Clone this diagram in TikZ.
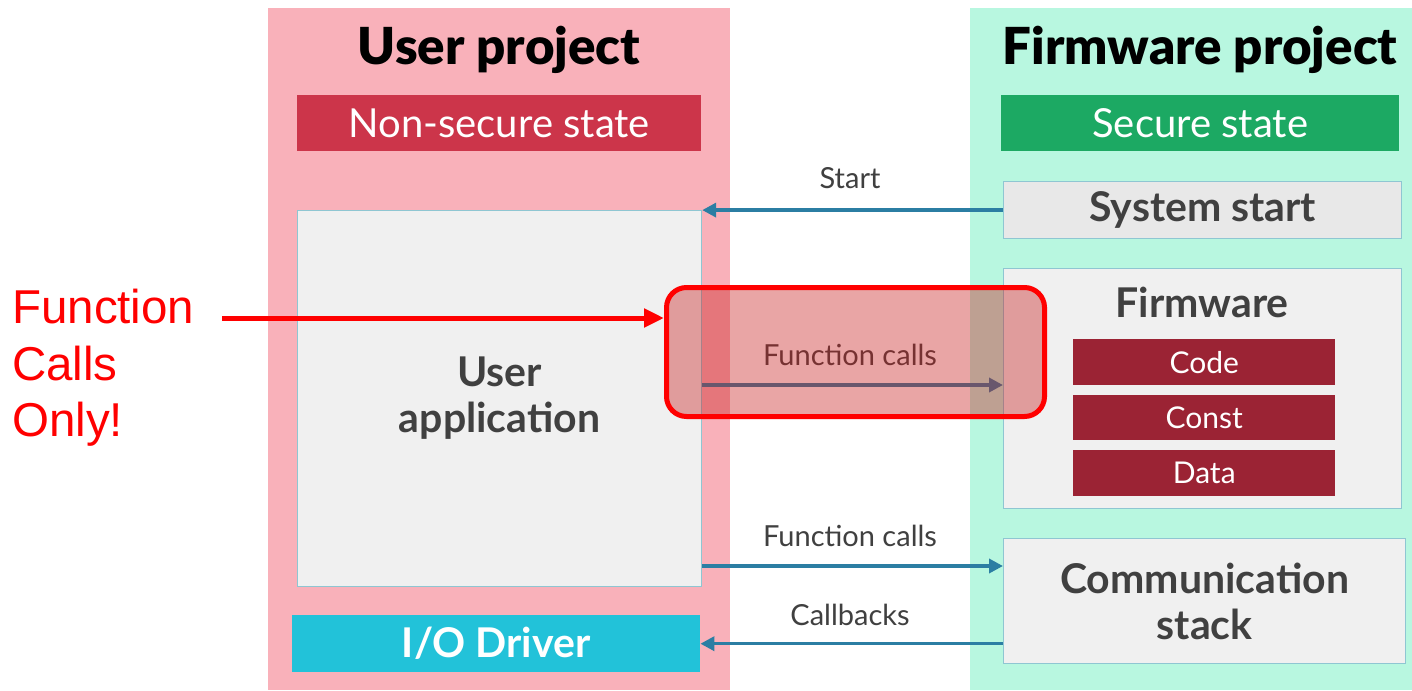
\documentclass[tikz,border=0pt]{standalone}
\usepackage{fontspec}
\setmainfont{Lato}
\newfontfamily\heavyfont{Lato Black}
\newfontfamily\arialfont{Liberation Sans}
\usetikzlibrary{arrows.meta}

\definecolor{pinkbg}{HTML}{F9B1BA}
\definecolor{mintbg}{HTML}{B8F7E0}
\definecolor{nsred}{HTML}{CC354A}
\definecolor{sgreen}{HTML}{1CA963}
\definecolor{boxgray}{HTML}{F0F0F0}
\definecolor{sysgray}{HTML}{E8E8E8}
\definecolor{boxedge}{HTML}{8FC6D2}
\definecolor{memred}{HTML}{9B2334}
\definecolor{iocyan}{HTML}{22C2D9}
\definecolor{flow}{HTML}{2B7EA3}
\definecolor{txtgray}{HTML}{404040}
\definecolor{hlred}{HTML}{C81E1E}

\newcommand{\fsz}[1]{\fontsize{#1}{#1}\selectfont}

\tikzset{
  rect/.style={rectangle, inner sep=0pt, anchor=north west},
  panel/.style={rect, draw=none},
  banner/.style={rect, text=white, font=\fsz{40}},
  graybox/.style={rect, fill=boxgray, draw=boxedge, line width=1.2pt, text=txtgray},
  boxtext/.style={font=\bfseries\fsz{41}},
  membox/.style={rect, fill=memred, text=white, font=\fsz{30}, minimum width=262pt},
  flowarrow/.style={draw=flow, line width=3.5pt, -{Triangle[length=14pt,width=14pt]}},
  flowlabel/.style={text=txtgray, font=\fsz{29}, inner sep=0pt},
  title/.style={font=\heavyfont\fsz{51}, inner sep=0pt},
  highlight/.style={rect, fill=hlred, fill opacity=0.4, draw=red, line width=5pt, rounded corners=20pt},
}

\begin{document}
\begin{tikzpicture}[x=1pt,y=-1pt]
\useasboundingbox (0,0) rectangle (1412,690);
\fill[white] (0,0) rectangle (1412,690);

% the two project columns
\node[panel, fill=pinkbg, minimum width=462pt, minimum height=682pt] (user) at (268,8) {};
\node[panel, fill=mintbg, minimum width=442pt, minimum height=682pt] (fwproj) at (970,8) {};

\node[title] (usert) at (499,50) {User project};
\node[title] (fwt) at (1200,50) {Firmware project};

\node[banner, fill=nsred, minimum width=404pt, minimum height=56pt] (ns) at (297,95) {Non-secure state};
\node[banner, fill=sgreen, minimum width=398pt, minimum height=56pt] (sec) at (1001,95) {Secure state};

% user side
\node[graybox, minimum width=404pt, minimum height=376pt, align=center,
      font=\bfseries\fontsize{41}{46}\selectfont] (app) at (297,210) {User\\application};
\node[rect, fill=iocyan, text=white, boxtext, minimum width=408pt, minimum height=57pt] (io) at (292,615) {I/O Driver};

% firmware side
\node[graybox, fill=sysgray, boxtext, minimum width=398pt, minimum height=57pt] (sys) at (1003,181) {System start};
\node[graybox, minimum width=398pt, minimum height=240pt] (fw) at (1003,268) {};
\node[text=txtgray, boxtext, inner sep=0pt] (fwt2) at (1202,302) {Firmware};
\node[membox, minimum height=46pt] (code) at (1073,339) {Code};
\node[membox, minimum height=45pt] (const) at (1073,395) {Const};
\node[membox, minimum height=46pt] (data) at (1073,450) {Data};
\node[graybox, minimum width=402pt, minimum height=125pt, align=center,
      font=\bfseries\fontsize{41}{46}\selectfont] (cs) at (1003,538) {Communication\\stack};

% connections between the projects
\draw[flowarrow] (sys.west) -- (app.east |- sys.west);
\node[flowlabel] (lstart) at (850,178) {Start};

\coordinate (ymid) at (0,385);
\draw[flowarrow] (app.east |- ymid) -- (fw.west |- ymid);
\node[flowlabel] (lfc1) at (850,355) {Function calls};

\coordinate (ylow) at (0,566);
\draw[flowarrow] (app.east |- ylow) -- (cs.west |- ylow);
\node[flowlabel] (lfc2) at (850,536) {Function calls};

\draw[flowarrow] (cs.west |- io.east) -- (io.east);
\node[flowlabel] (lcb) at (850,615) {Callbacks};

% emphasis on the direct call path
\node[highlight, minimum width=378pt, minimum height=129pt] (hl) at (664,285) {};
\node[rect, text=red, align=left, font=\arialfont\fontsize{47.5}{56.5}\selectfont] (note) at (12,289) {Function\\Calls\\Only!};
\coordinate (notetail) at (222,318);
\draw[red, line width=5pt, -{Triangle[length=20pt,width=18pt]}] (notetail) -- (hl.west |- notetail);
\end{tikzpicture}
\end{document}
